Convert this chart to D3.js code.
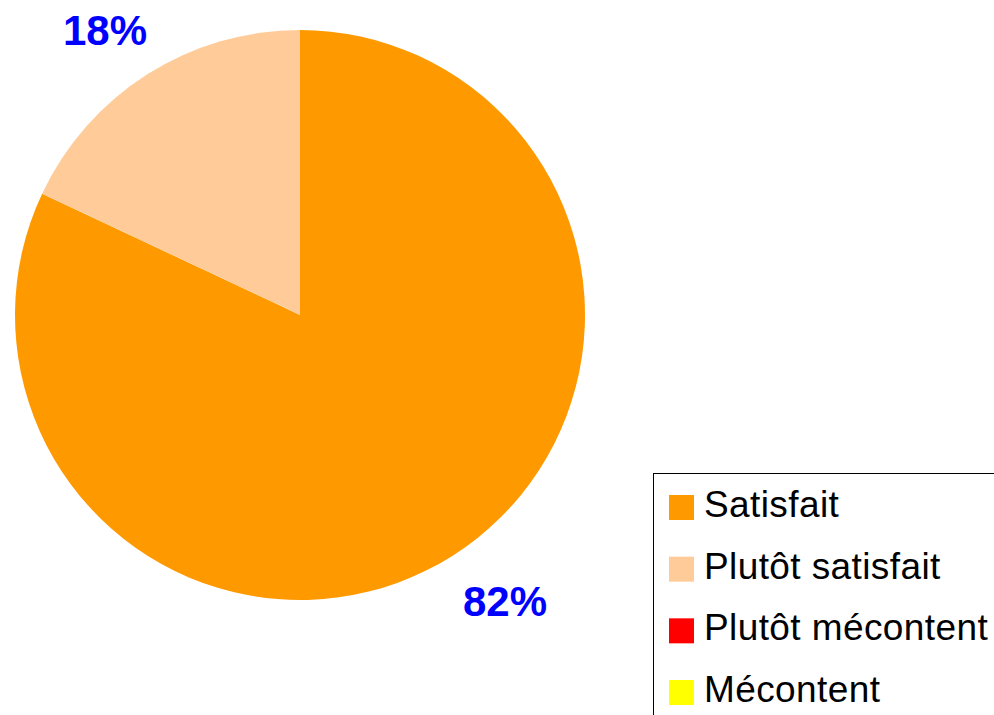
<!DOCTYPE html>
<html><head><meta charset="utf-8">
<script src="https://cdn.jsdelivr.net/npm/d3@7"></script>
<style>body{margin:0;background:#fff}svg{display:block}</style>
</head><body>
<svg id="c" width="994" height="715"></svg>
<script>
const categories = ["Satisfait", "Plutôt satisfait", "Plutôt mécontent", "Mécontent"];
const values = [82, 18, 0, 0];
const colors = ["#FF9900", "#FFCC99", "#FF0000", "#FFFF00"];
const labels = ["82%", "18%", "", ""];

const svg = d3.select("#c");
const cx = 300, cy = 315, r = 285;
const pie = d3.pie().sort(null).value(d => d.v);
const data = categories.map((c, i) => ({c, v: values[i], col: colors[i], lab: labels[i]}));
const arcs = pie(data);
const arc = d3.arc().innerRadius(0).outerRadius(r);
const g = svg.append("g").attr("transform", `translate(${cx},${cy})`);
g.selectAll("path").data(arcs).join("path").attr("d", arc).attr("fill", d => d.data.col);

// labels
const labelPos = [[205, 301], [-195, -270]];
arcs.forEach((a, i) => {
  if (!a.data.lab) return;
  const mid = (a.startAngle + a.endAngle) / 2;
  const lr = r * 1.12;
  let x = Math.sin(mid) * lr, y = -Math.cos(mid) * lr;
  g.append("text").attr("x", labelPos[i][0]).attr("y", labelPos[i][1])
    .attr("text-anchor", "middle")
    .attr("font-family", "Liberation Sans, Arial, sans-serif")
    .attr("font-weight", "bold").attr("font-size", 42).attr("fill", "#0000FF")
    .text(a.data.lab);
});

// legend
const lg = svg.append("g");
lg.append("rect").attr("x", 653.5).attr("y", 473.5).attr("width", 400).attr("height", 300)
  .attr("fill", "#fff").attr("stroke", "#000").attr("stroke-width", 1);
const rowY = d3.scalePoint().domain(categories).range([517, 702]);
categories.forEach((c, i) => {
  const y = rowY(c);
  lg.append("rect").attr("x", 669).attr("y", y - 22).attr("width", 25).attr("height", 25).attr("fill", colors[i]);
  lg.append("text").attr("x", 704).attr("y", y)
    .attr("font-family", "Liberation Sans, Arial, sans-serif").attr("font-size", 37)
    .attr("letter-spacing", 0.4).attr("fill", "#000").text(c);
});
</script>
</body></html>
